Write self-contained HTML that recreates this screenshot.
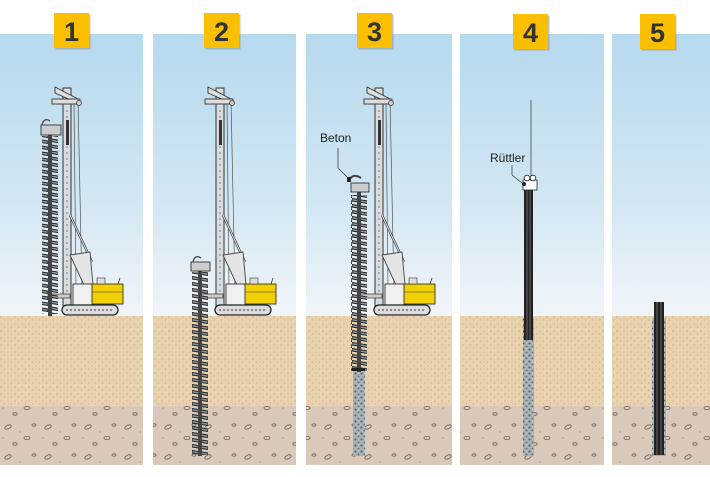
<!DOCTYPE html>
<html><head><meta charset="utf-8"><style>
html,body{margin:0;padding:0;background:#fff;}
svg{display:block}
</style></head><body>
<svg width="710" height="477" viewBox="0 0 710 477" xmlns="http://www.w3.org/2000/svg">
<defs>
<linearGradient id="sky" x1="0" y1="0" x2="0" y2="1">
<stop offset="0" stop-color="#b5d9ee"/><stop offset="0.6" stop-color="#d3e7f3"/><stop offset="1" stop-color="#f1f5f8"/>
</linearGradient>
<pattern id="sand" width="7" height="7" patternUnits="userSpaceOnUse">
<rect width="7" height="7" fill="#e8d2ae"/>
<circle cx="1" cy="2" r="0.6" fill="#c7a77c"/><circle cx="4.5" cy="5" r="0.5" fill="#b89a72"/><circle cx="5.5" cy="1" r="0.4" fill="#f6ead4"/>
</pattern>
<pattern id="soil" width="40" height="30" patternUnits="userSpaceOnUse">
<rect width="40" height="30" fill="#d8c9ba"/>
<ellipse cx="8" cy="7" rx="3.5" ry="1.8" fill="none" stroke="#6d6157" stroke-width="0.8" transform="rotate(-25 8 7)"/>
<ellipse cx="27" cy="18" rx="3" ry="1.6" fill="none" stroke="#6d6157" stroke-width="0.8"/>
<ellipse cx="15" cy="24" rx="2.2" ry="1.3" fill="none" stroke="#6d6157" stroke-width="0.8"/>
<ellipse cx="34" cy="5" rx="2" ry="1.2" fill="none" stroke="#6d6157" stroke-width="0.8"/>
<circle cx="20" cy="12" r="0.6" fill="#8a7c70"/><circle cx="3" cy="18" r="0.6" fill="#8a7c70"/>
</pattern>
<pattern id="conc" width="6" height="6" patternUnits="userSpaceOnUse">
<rect width="6" height="6" fill="#a8b1b5"/>
<circle cx="1.5" cy="1.5" r="1" fill="#4e585e"/><circle cx="4.5" cy="4.5" r="0.9" fill="#5f6a70"/><circle cx="4.5" cy="1" r="0.5" fill="#dfe5e8"/>
</pattern>
<pattern id="aug" width="16" height="6" patternUnits="userSpaceOnUse">
<path d="M0 0.5 L16 3 L16 5.5 L0 3 Z" fill="#8f989d" stroke="#222" stroke-width="0.9"/>
</pattern>
<g id="rig">
<line x1="78" y1="100" x2="82" y2="290" stroke="#555" stroke-width="0.7"/>
<line x1="74" y1="100" x2="76" y2="290" stroke="#555" stroke-width="0.7"/>
<rect x="63" y="88" width="8" height="220" fill="#d9dcde" stroke="#333" stroke-width="1"/>
<line x1="67" y1="110" x2="67" y2="300" stroke="#666" stroke-width="0.8" stroke-dasharray="2 4"/>
<path d="M55 87 L80 100 L80 104 L55 93 Z" fill="#ddd" stroke="#333" stroke-width="0.9"/>
<rect x="52" y="99" width="28" height="5" fill="#ddd" stroke="#333" stroke-width="0.9"/>
<circle cx="79" cy="103" r="2.5" fill="#ccc" stroke="#333" stroke-width="0.7"/>
<rect x="66" y="120" width="3" height="25" fill="#333"/>
<line x1="70" y1="215" x2="92" y2="262" stroke="#444" stroke-width="2.4"/>
<line x1="70" y1="215" x2="92" y2="262" stroke="#ddd" stroke-width="1"/>
<path d="M70 255 L90 252 L93 285 L84 285 Z" fill="#e4e4e4" stroke="#444" stroke-width="0.9"/>
<rect x="73" y="284" width="20" height="21" fill="#f0f0f0" stroke="#333" stroke-width="0.9"/>
<rect x="92" y="284" width="31" height="20" fill="#f2d000" stroke="#333" stroke-width="0.9"/>
<line x1="92" y1="292" x2="123" y2="292" stroke="#333" stroke-width="0.6"/>
<rect x="97" y="278" width="8" height="6" fill="#ddd" stroke="#333" stroke-width="0.6"/>
<line x1="118" y1="284" x2="120" y2="278" stroke="#333" stroke-width="0.8"/>
<rect x="48" y="294" width="22" height="4" fill="#ccc" stroke="#333" stroke-width="0.7"/>
<rect x="62" y="305" width="56" height="10" rx="5" fill="#dcdcdc" stroke="#222" stroke-width="1.3"/>
<line x1="66" y1="310" x2="114" y2="310" stroke="#333" stroke-width="1" stroke-dasharray="2 2"/>
</g>
</defs>

<g>
<rect x="0" y="34" width="143" height="283" fill="url(#sky)"/>
<rect x="153" y="34" width="143" height="283" fill="url(#sky)"/>
<rect x="306" y="34" width="146" height="283" fill="url(#sky)"/>
<rect x="460" y="34" width="144" height="283" fill="url(#sky)"/>
<rect x="612" y="34" width="98" height="283" fill="url(#sky)"/>
</g>
<g fill="url(#sand)">
<rect x="0" y="316" width="143" height="90"/><rect x="153" y="316" width="143" height="90"/><rect x="306" y="316" width="146" height="90"/><rect x="460" y="316" width="144" height="90"/><rect x="612" y="316" width="98" height="90"/>
</g>
<g fill="url(#soil)">
<rect x="0" y="406" width="143" height="59"/><rect x="153" y="406" width="143" height="59"/><rect x="306" y="406" width="146" height="59"/><rect x="460" y="406" width="144" height="59"/><rect x="612" y="406" width="98" height="59"/>
</g>

<g font-family="Liberation Sans, sans-serif" font-weight="bold" font-size="27" fill="#333" text-anchor="middle">
<rect x="55.5" y="14.5" width="35" height="35" fill="#888" opacity="0.5"/>
<rect x="54" y="13" width="35" height="35" fill="#fbbf00"/><text x="71.5" y="41">1</text>
<rect x="205.5" y="14.5" width="35" height="35" fill="#888" opacity="0.5"/>
<rect x="204" y="13" width="35" height="35" fill="#fbbf00"/><text x="221.5" y="41">2</text>
<rect x="358.5" y="14.5" width="35" height="35" fill="#888" opacity="0.5"/>
<rect x="357" y="13" width="35" height="35" fill="#fbbf00"/><text x="374.5" y="41">3</text>
<rect x="514.5" y="15.5" width="35" height="35" fill="#888" opacity="0.5"/>
<rect x="513" y="14" width="35" height="35" fill="#fbbf00"/><text x="530.5" y="42">4</text>
<rect x="641.5" y="15.5" width="35" height="35" fill="#888" opacity="0.5"/>
<rect x="640" y="14" width="35" height="35" fill="#fbbf00"/><text x="657.5" y="42">5</text>
</g>

<!-- panel 1 -->
<use href="#rig"/>
<rect x="42" y="136" width="16" height="178" fill="url(#aug)"/>
<rect x="48" y="130" width="4" height="186" fill="#444"/>
<rect x="41" y="125" width="20" height="10" fill="#ccc" stroke="#333" stroke-width="0.9"/>
<path d="M42 125 q2 -8 8 -4" fill="none" stroke="#555" stroke-width="1.5"/>

<!-- panel 2 -->
<use href="#rig" transform="translate(153,0)"/>
<rect x="192" y="272" width="16" height="183" fill="url(#aug)"/>
<rect x="198" y="268" width="4" height="188" fill="#444"/>
<rect x="191" y="262" width="19" height="9" fill="#ccc" stroke="#333" stroke-width="0.9"/>
<path d="M193 262 q2 -8 8 -4" fill="none" stroke="#555" stroke-width="1.5"/>

<!-- panel 3 -->
<use href="#rig" transform="translate(312,0)"/>
<rect x="353" y="371" width="12" height="85" fill="url(#conc)"/>
<rect x="351" y="195" width="16" height="176" fill="url(#aug)"/>
<rect x="357" y="188" width="4" height="184" fill="#444"/>
<rect x="352" y="368" width="13" height="3" fill="#222"/>
<rect x="351" y="183" width="18" height="9" fill="#ccc" stroke="#333" stroke-width="0.9"/>
<path d="M349 180 q4 -7 12 -2" fill="none" stroke="#444" stroke-width="2"/>
<rect x="347" y="177" width="4" height="5" fill="#222"/>
<polyline points="338,148 338,168 348,178" fill="none" stroke="#333" stroke-width="0.7"/>
<text x="320" y="142" font-family="Liberation Sans, sans-serif" font-size="12" fill="#222">Beton</text>

<!-- panel 4 -->
<rect x="523" y="318" width="11" height="138" fill="url(#conc)"/>
<rect x="524" y="190" width="9" height="150" fill="#222"/>
<line x1="527" y1="190" x2="527" y2="340" stroke="#777" stroke-width="0.8"/>
<line x1="530" y1="190" x2="530" y2="340" stroke="#777" stroke-width="0.8"/>
<line x1="531" y1="100" x2="531" y2="180" stroke="#444" stroke-width="0.8"/>
<rect x="523" y="180" width="14" height="10" fill="#fff" stroke="#222" stroke-width="0.8"/>
<circle cx="527" cy="178" r="2.8" fill="#fff" stroke="#222" stroke-width="0.8"/>
<circle cx="533" cy="178" r="2.8" fill="#fff" stroke="#222" stroke-width="0.8"/>
<circle cx="524" cy="184" r="2" fill="#222"/>
<polyline points="512,165 512,175 522,183" fill="none" stroke="#333" stroke-width="0.7"/>
<text x="490" y="162" font-family="Liberation Sans, sans-serif" font-size="12" fill="#222">Rüttler</text>

<!-- panel 5 -->
<rect x="652" y="318" width="14" height="138" fill="url(#conc)"/>
<rect x="654" y="302" width="10" height="153" fill="#222"/>
<line x1="657" y1="302" x2="657" y2="455" stroke="#777" stroke-width="0.8"/>
<line x1="661" y1="302" x2="661" y2="455" stroke="#777" stroke-width="0.8"/>
</svg>
</body></html>
